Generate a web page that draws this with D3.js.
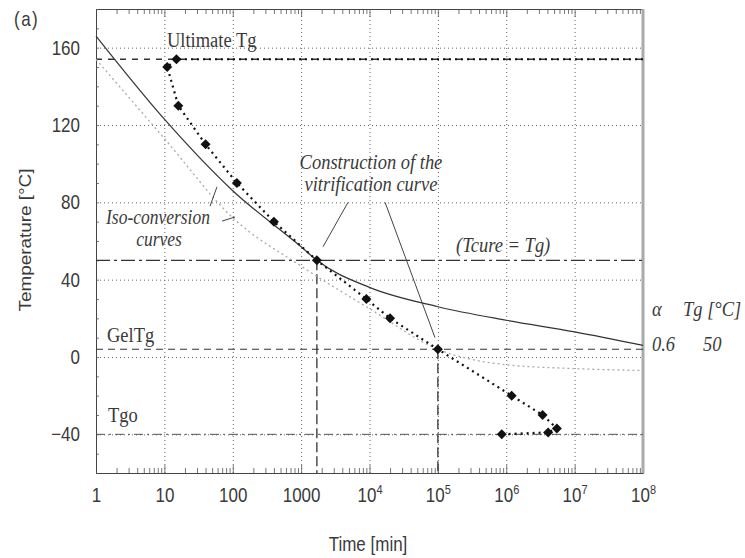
<!DOCTYPE html>
<html><head><meta charset="utf-8">
<script src="https://cdn.jsdelivr.net/npm/d3@7"></script>
<style>body{margin:0;background:#fff}svg{display:block}</style>
</head><body>
<svg id="chart" width="745" height="558"></svg>
<script>
// Axis ticks
const timeTicks = [1, 10, 100, 1000, 1e4, 1e5, 1e6, 1e7, 1e8];
const tempTicks = [160, 120, 80, 40, 0, -40];

// Characteristic temperatures (°C)
const ultimateTg = 154;
const tcureTg = 50;
const gelTg = 4;
const tg0 = -40;

// Vitrification construction points: time [min], temperature [°C]
const vitTime = [15, 11, 16, 40, 115, 400, 1700, 9000, 20000, 1e5, 1.2e6, 3.4e6, 5.5e6, 4.1e6, 8.6e5];
const vitTemp = [154, 150, 130, 110, 90, 70, 50, 30, 20, 4, -20, -30, -37, -39, -40];

// Iso-conversion curve alpha = 0.6 (Tg = 50 °C)
const isoTime = [1, 10, 100, 1000, 1700, 1e4, 1e5, 1e6, 1e7, 1e8];
const isoTemp = [166, 123, 86, 57, 50, 36, 26, 19, 13, 6];

// Iso-conversion curve at gelation (Tg = GelTg)
const isoGelTime = [1, 10, 100, 1000, 1e4, 1e5, 1e6, 1e7, 1e8];
const isoGelTemp = [154, 113, 72, 47, 25, 4, -4, -6, -7];

// Legend entries
const legendAlpha = ["0.6"];
const legendTg = ["50"];

const K = 1.18; // vertical stretch of glyphs
const SANS = "'Liberation Sans', Arial, sans-serif";
const SERIF = "'Liberation Serif', 'Times New Roman', serif";
const INK = "#3a3a3a";

const svg = d3.select("#chart");
const x = d3.scaleLog().domain([1, 1e8]).range([96, 643]);
const y = d3.scaleLinear().domain([-60, 180]).range([473, 9]);
const [X0, X1] = x.range();
const [Y0, Y1] = y.range();

// Grid
const grid = svg.append("g").attr("class", "grid");
grid.append("g").attr("transform", `translate(0,${Y0})`)
  .call(d3.axisBottom(x).tickValues(timeTicks.slice(1, -1)).tickSize(-(Y0 - Y1)).tickFormat(""))
  .call(g => g.select(".domain").remove());
grid.append("g").attr("transform", `translate(${X0},0)`)
  .call(d3.axisLeft(y).tickValues(tempTicks).tickSize(-(X1 - X0)).tickFormat(""))
  .call(g => g.select(".domain").remove());
grid.selectAll("line").attr("stroke", "#666").attr("stroke-width", 1).attr("stroke-dasharray", "1,3");

// Minor ticks
const minorTimes = [];
for (let d = 0; d < 8; d++) for (let m = 2; m < 10; m++) minorTimes.push(m * Math.pow(10, d));
const tickG = svg.append("g").attr("class", "ticks");
tickG.append("g").attr("transform", `translate(0,${Y0})`)
  .call(d3.axisBottom(x).tickValues(minorTimes).tickSize(-5).tickSizeOuter(0).tickFormat(""));
tickG.append("g").attr("transform", `translate(0,${Y1})`)
  .call(d3.axisTop(x).tickValues(minorTimes).tickSize(-5).tickSizeOuter(0).tickFormat(""));
tickG.append("g").attr("transform", `translate(0,${Y0})`)
  .call(d3.axisBottom(x).tickValues(timeTicks).tickSize(-8).tickSizeOuter(0).tickFormat(""));
tickG.append("g").attr("transform", `translate(0,${Y1})`)
  .call(d3.axisTop(x).tickValues(timeTicks).tickSize(-8).tickSizeOuter(0).tickFormat(""));
tickG.append("g").attr("transform", `translate(${X0},0)`)
  .call(d3.axisLeft(y).tickValues(d3.range(-60, 181, 10)).tickSize(-3).tickSizeOuter(0).tickFormat(""));
tickG.selectAll("line").attr("stroke", "#555").attr("stroke-width", 0.8);
tickG.selectAll(".domain").attr("stroke", "#444").attr("stroke-width", 1);

// Right frame edge
svg.append("line").attr("x1", X1).attr("x2", X1).attr("y1", Y1).attr("y2", Y0)
  .attr("stroke", "#aaa").attr("stroke-width", 3);

// Reference temperatures
function hLine(v, dash, w, c) {
  svg.append("line").attr("x1", X0).attr("x2", X1).attr("y1", y(v)).attr("y2", y(v))
    .attr("stroke", c).attr("stroke-width", w).attr("stroke-dasharray", dash);
}
hLine(ultimateTg, "6,6", 1.3, "#333");
hLine(tcureTg, "14,4,3,4", 1.3, "#333");
hLine(gelTg, "7,5", 1.2, "#333");
hLine(tg0, "9,4,2,4", 1, "#555");

// Drops from vitrification point and gel point
function vDrop(t, v) {
  svg.append("line").attr("x1", x(t)).attr("x2", x(t)).attr("y1", y(v)).attr("y2", Y0)
    .attr("stroke", "#333").attr("stroke-width", 1.3).attr("stroke-dasharray", "10,4");
}
vDrop(vitTime[6], vitTemp[6]);
vDrop(vitTime[9], vitTemp[9]);

const line = d3.line().x(d => x(d[0])).y(d => y(d[1]));

// Iso-conversion curves
svg.append("path").datum(d3.zip(isoGelTime, isoGelTemp))
  .attr("d", line.curve(d3.curveMonotoneX)).attr("fill", "none")
  .attr("stroke", "#aaa").attr("stroke-width", 1.3).attr("stroke-dasharray", "2,3");
svg.append("path").datum(d3.zip(isoTime, isoTemp))
  .attr("d", line.curve(d3.curveMonotoneX)).attr("fill", "none")
  .attr("stroke", "#333").attr("stroke-width", 1.2);

// Vitrification curve (dotted) with its ultimate Tg plateau
const vitPts = d3.zip(vitTime, vitTemp);
svg.append("path").datum([[x.domain()[1], ultimateTg], ...vitPts])
  .attr("d", line.curve(d3.curveLinear)).attr("fill", "none")
  .attr("stroke", "#111").attr("stroke-width", 2.2).attr("stroke-dasharray", "2,4");
svg.append("g").selectAll("path").data(vitPts).join("path")
  .attr("transform", d => `translate(${x(d[0])},${y(d[1])}) rotate(45)`)
  .attr("d", d3.symbol(d3.symbolSquare, 50))
  .attr("fill", "#111");

// Axes labels
const xAxis = svg.append("g").attr("transform", `translate(0,${Y0})`)
  .call(d3.axisBottom(x).tickValues(timeTicks).tickSize(0).tickFormat(d => String(d)));
xAxis.select(".domain").remove();
xAxis.selectAll("text")
  .attr("y", null).attr("dy", null)
  .attr("transform", `translate(0,29) scale(1,${K})`)
  .attr("font-family", SANS).attr("font-size", 17).attr("fill", INK)
  .each(function(d) {
    if (d >= 1e4) {
      const t = d3.select(this).text("");
      t.append("tspan").text("10");
      t.append("tspan").attr("font-size", 11).attr("dy", -7).text(Math.round(Math.log10(d)));
    }
  });

const yAxis = svg.append("g").attr("transform", `translate(${X0},0)`)
  .call(d3.axisLeft(y).tickValues(tempTicks).tickSize(0).tickPadding(16));
yAxis.select(".domain").remove();
yAxis.selectAll("text")
  .attr("transform", `scale(1,${K})`)
  .attr("font-family", SANS).attr("font-size", 17).attr("fill", INK);

function label(txt, px, py, o = {}) {
  return svg.append("text")
    .attr("transform", `translate(${px},${py}) scale(1,${K})${o.rotate ? " rotate(" + o.rotate + ")" : ""}`)
    .attr("text-anchor", o.anchor || "start")
    .attr("font-family", o.family || SERIF)
    .attr("font-size", o.size || 18.5)
    .attr("font-style", o.italic ? "italic" : "normal")
    .attr("letter-spacing", o.ls || 0)
    .attr("fill", o.fill || INK)
    .text(txt);
}

label("Time [min]", 368, 551, { anchor: "middle", family: SANS, size: 17 });
label("Temperature [°C]", 31, 240, { anchor: "middle", family: SANS, size: 16, rotate: -90 });
label("(a)", 14, 26, { family: SANS, size: 17, ls: 1.5 });

label("Ultimate Tg", x(10.9), y(160.5));
label("GelTg", 107, y(gelTg) - 7);
label("Tgo", 108, y(tg0) - 12);
label("Construction of the", x(1.05e4), 169, { anchor: "middle", italic: true });
label("vitrification curve", x(1.05e4), 191, { anchor: "middle", italic: true });
label("(Tcure = Tg)", x(9e5), y(tcureTg) - 8, { anchor: "middle", italic: true });
label("Iso-conversion", 158, 224, { anchor: "middle", italic: true, size: 17.5 });
label("curves", 159, 246, { anchor: "middle", italic: true, size: 17.5 });

// Leader lines
function leader(a, b) {
  svg.append("line").attr("x1", x(a[0])).attr("y1", y(a[1])).attr("x2", x(b[0])).attr("y2", y(b[1]))
    .attr("stroke", "#444").attr("stroke-width", 1);
}
leader([4850, 80], [2090, 57]);
leader([16900, 80], [90800, 10]);
leader([46.5, 78], [58.8, 88]);
leader([69.7, 70.3], [108, 72.4]);

// Legend of iso-conversion curves
label("α", 652, 316, { italic: true });
label("Tg [°C]", 683, 316, { italic: true });
legendAlpha.forEach((a, i) => {
  label(a, 652, 351 + i * 30, { italic: true });
  label(legendTg[i], 703, 351 + i * 30, { italic: true });
});
</script>
</body></html>
